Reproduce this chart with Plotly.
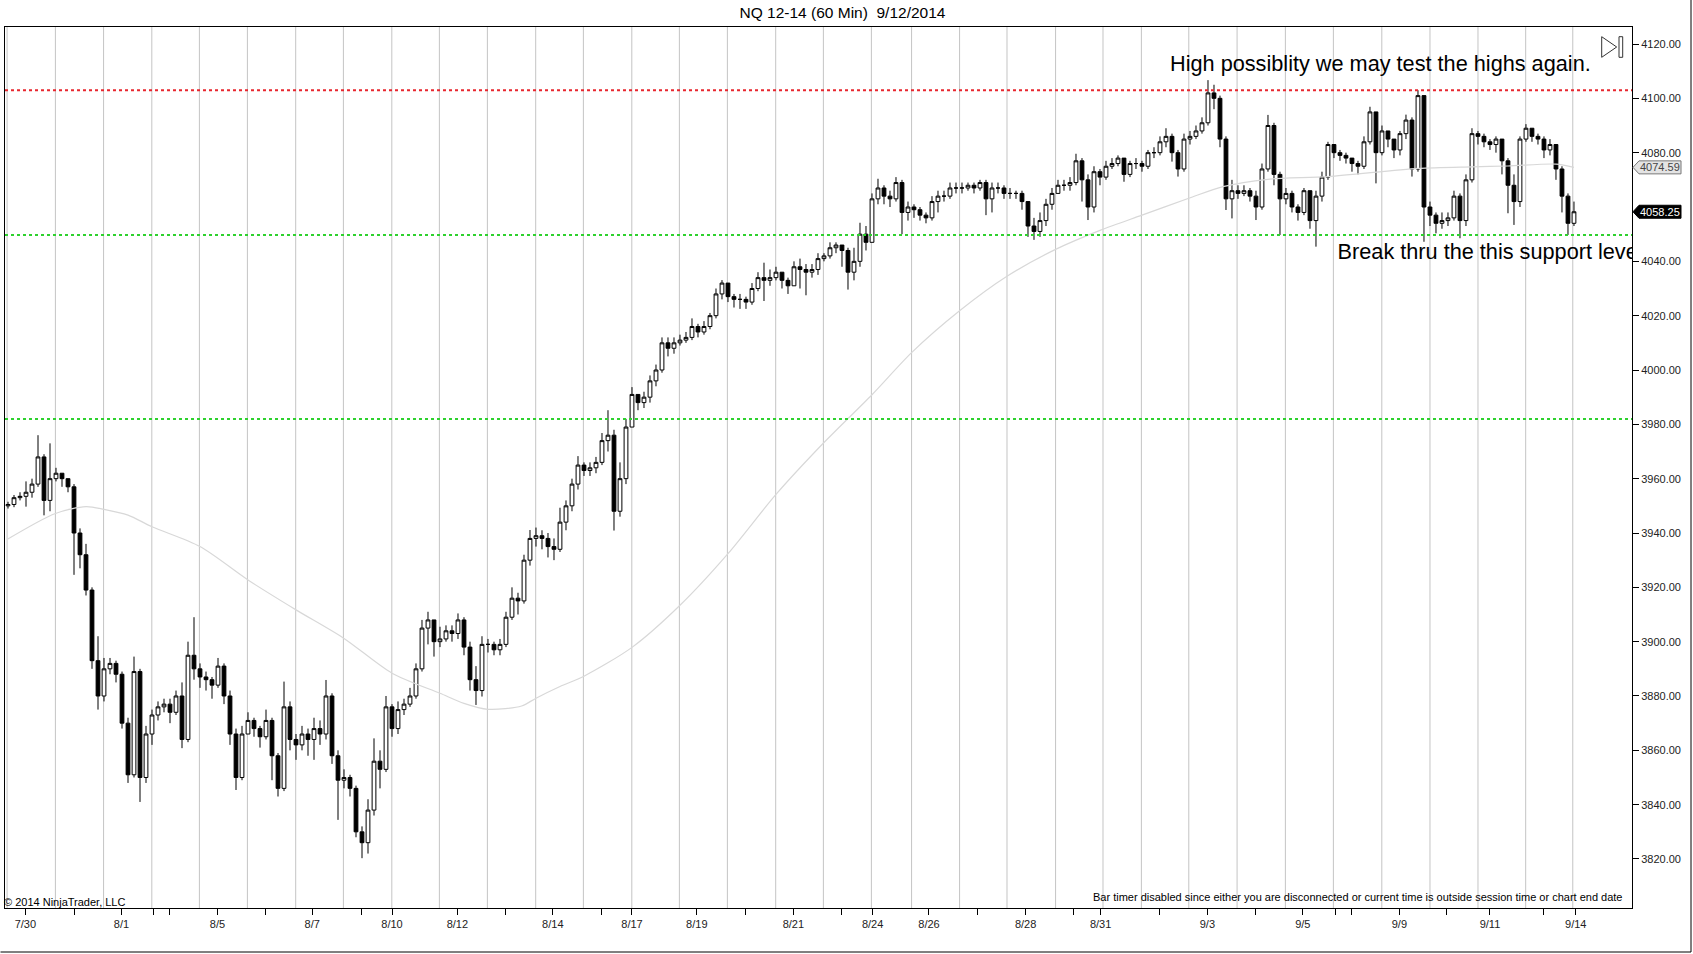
import plotly.graph_objects as go

title_text = "NQ 12-14 (60 Min)  9/12/2014"

first_open = 3950.0
close = [
    3950.5, 3953, 3953.5, 3955, 3958, 3968, 3952, 3960,
    3962, 3960, 3957, 3940, 3932, 3919, 3893, 3880,
    3890, 3892, 3888, 3870, 3851, 3889, 3850, 3866,
    3873, 3876, 3877, 3874, 3880, 3864, 3895, 3890,
    3887, 3886, 3884, 3891, 3880, 3866, 3850, 3866,
    3871, 3868, 3865, 3871, 3858, 3846, 3876, 3864,
    3862, 3866, 3864, 3868, 3866, 3880, 3858, 3849,
    3850, 3846, 3830, 3826, 3838, 3856, 3853, 3876,
    3868, 3875, 3877, 3880, 3890, 3905, 3908, 3900,
    3901, 3904, 3903, 3908, 3898, 3886, 3882, 3899,
    3899, 3897, 3899, 3909, 3916, 3915, 3930, 3938,
    3939, 3938, 3935, 3934, 3944, 3950, 3958, 3965,
    3963, 3964, 3966, 3974, 3976, 3948, 3960, 3979,
    3991, 3988, 3990, 3996, 4000, 4010, 4008, 4010,
    4011, 4012, 4016, 4014, 4016, 4020, 4028, 4032,
    4027, 4026, 4026, 4025, 4030, 4034, 4033, 4034,
    4036, 4033, 4031, 4038, 4037, 4036, 4037, 4041,
    4042, 4045, 4046, 4044, 4036, 4040, 4050, 4047,
    4063, 4067, 4064, 4063, 4069, 4058, 4060,
    4059, 4057, 4056, 4062, 4064, 4064, 4067, 4067,
    4067, 4068, 4067, 4069, 4063, 4067, 4067, 4065,
    4065, 4065, 4062, 4053, 4051, 4055, 4061, 4065,
    4068, 4068, 4069, 4077, 4070, 4060, 4073, 4071,
    4075, 4076, 4078, 4072, 4076, 4076,
    4075, 4080, 4080, 4084, 4086, 4080, 4074, 4085,
    4086, 4088, 4091, 4102, 4100, 4085, 4063, 4066,
    4065, 4066, 4064, 4060, 4074, 4090, 4072, 4063,
    4065, 4060, 4058, 4066, 4055, 4064, 4071, 4083,
    4080, 4079, 4078, 4076, 4075, 4084, 4095, 4080,
    4088, 4085, 4081, 4087, 4092, 4074, 4101, 4060,
    4057, 4054, 4055, 4056, 4064, 4055, 4070, 4087,
    4086, 4084, 4083, 4085, 4077, 4068, 4062, 4085,
    4089, 4086, 4085, 4081, 4083, 4074, 4064, 4054, 4058.25,
]
high = [
    3951.5, 3954, 3955, 3959, 3960, 3976, 3969, 3973,
    3964, 3962, 3960, 3958, 3941.7, 3936, 3920, 3902,
    3894, 3894, 3893, 3889, 3872, 3894.5, 3890, 3869,
    3875, 3878, 3879, 3879, 3882, 3885, 3900, 3909,
    3892, 3889, 3887, 3894, 3892, 3882, 3868, 3869,
    3874, 3872, 3869, 3875, 3872, 3859, 3885.3, 3878,
    3866, 3869, 3868, 3872, 3871, 3885.9, 3881, 3860,
    3853, 3851, 3847, 3832, 3842, 3864.4, 3860, 3880,
    3877, 3878, 3879, 3883, 3892, 3908, 3911, 3906,
    3905.5, 3906, 3906, 3910.4, 3909, 3900, 3891, 3902,
    3901, 3900, 3901, 3911, 3920, 3918, 3932, 3941.1,
    3942, 3941, 3940, 3938, 3949.3, 3952, 3960, 3968.3,
    3966, 3966, 3968, 3976.8, 3985.2, 3978, 3966, 3982,
    3993.7, 3991, 3992, 3998, 4002, 4012, 4012, 4012,
    4013, 4014, 4019, 4017, 4018, 4021, 4030, 4033.1,
    4031, 4028, 4028, 4027, 4032, 4036, 4039.5, 4037,
    4038, 4036, 4034, 4040, 4041, 4039, 4039, 4043,
    4043, 4047, 4047, 4046, 4045, 4045, 4054.2, 4053,
    4065, 4070.4, 4068, 4066, 4071, 4070, 4062,
    4061, 4060, 4058, 4064, 4066, 4066, 4069, 4069,
    4069, 4069, 4069, 4070, 4070, 4069, 4069, 4068,
    4067, 4066, 4066, 4062, 4056, 4058, 4063, 4067,
    4070, 4070, 4071, 4079.6, 4078, 4072, 4075, 4074,
    4077, 4078, 4079, 4078, 4077, 4078,
    4077, 4081, 4082, 4086, 4089, 4087, 4081, 4087,
    4088, 4090, 4093, 4106.7, 4105, 4101, 4086, 4070,
    4068, 4068, 4067, 4066, 4076, 4093.9, 4091, 4073,
    4067, 4066, 4061, 4067, 4066, 4066, 4073, 4084,
    4083, 4081, 4080, 4078, 4077, 4086, 4096.9, 4095,
    4090, 4088, 4084, 4088, 4094, 4093, 4103, 4101,
    4062, 4058, 4058, 4058, 4066, 4065, 4072, 4089,
    4088, 4087, 4085, 4086, 4085, 4078, 4072, 4086,
    4090.5, 4088, 4087, 4086, 4085, 4083, 4075, 4065, 4062,
]
low = [
    3949, 3949.5, 3952, 3949.7, 3953, 3957, 3946.5, 3948,
    3959, 3957, 3955, 3924.6, 3927, 3917, 3890, 3875,
    3878, 3888, 3885, 3868, 3848, 3850, 3841, 3848,
    3862, 3871, 3874, 3870, 3873, 3860.8, 3863, 3886,
    3883, 3882, 3879, 3883, 3877, 3862, 3845.4, 3849,
    3866, 3865, 3861, 3864, 3849, 3843, 3845, 3860,
    3856.5, 3860, 3858, 3856.5, 3862, 3864, 3855, 3834.4,
    3846, 3843, 3828, 3820.3, 3822, 3836, 3846, 3852,
    3865, 3866, 3873, 3876, 3879, 3889, 3899, 3894.5,
    3898, 3900, 3900, 3901, 3895, 3882, 3876.7, 3879.8,
    3896, 3895, 3895, 3898, 3908, 3910, 3914, 3928,
    3935, 3934, 3931, 3930, 3933, 3941, 3948, 3956,
    3961, 3961, 3962, 3965, 3970, 3940.9, 3946, 3958,
    3979, 3985.2, 3986, 3988, 3994, 3999, 4005, 4006,
    4009, 4010, 4011, 4012, 4013, 4015, 4019, 4026,
    4025, 4023, 4022.5, 4022.5, 4024, 4029, 4025.4, 4031,
    4033, 4030, 4028, 4031, 4030, 4027.5, 4034, 4035,
    4040, 4041, 4043, 4038, 4029.6, 4033, 4038, 4044,
    4047, 4061, 4061, 4060, 4062, 4050, 4055,
    4056, 4055, 4054, 4055, 4058, 4062, 4063, 4065,
    4065, 4066, 4065, 4066, 4057, 4058, 4065, 4063,
    4063, 4063, 4059, 4049, 4047.9, 4049, 4053, 4059,
    4066, 4066, 4066, 4068, 4062, 4055.2, 4058, 4068,
    4070, 4074, 4075, 4069.3, 4071, 4074,
    4073, 4074, 4078, 4079, 4082, 4076.7, 4071.2, 4073,
    4083, 4085, 4087, 4090, 4096, 4082, 4058.9, 4055.8,
    4063, 4064, 4062, 4055.2, 4059, 4073, 4068, 4049.7,
    4061, 4058, 4055, 4057, 4052, 4045.4, 4062, 4070,
    4078, 4077, 4076, 4073, 4072, 4074, 4083, 4068.7,
    4079, 4082, 4078, 4079, 4085, 4071.2, 4073, 4047.2,
    4053, 4050.3, 4052, 4053, 4055, 4048.5, 4053, 4069,
    4083, 4082, 4081, 4080, 4072, 4057.7, 4053.4, 4060,
    4084, 4084, 4083, 4078, 4079, 4070, 4058, 4049.7, 4053,
]

# slow moving average
ma_bar = [-0.1, 7.9, 13, 16, 20, 24, 32, 40, 48, 56, 64, 72, 76, 80, 85.6, 88, 92,
          96, 104, 112, 120, 128, 136, 144, 150.6, 158.6, 166.5, 174.6, 182, 189,
          196.8, 202.5, 210, 220, 235, 244, 250, 258, 261]
ma_val = [3937.7, 3947.2, 3949.7, 3948.7, 3946.6, 3942.3, 3935, 3922.7, 3911.7,
          3901.2, 3888.4, 3881, 3877.3, 3875.1, 3876.3, 3879.2, 3883.5, 3887.3,
          3897.9, 3913.4, 3932.4, 3954.2, 3973.3, 3990.9, 4006.4, 4021.8, 4034.5,
          4044.4, 4051.4, 4057, 4063.2, 4067.5, 4070.2, 4071.2, 4074.2, 4074.8,
          4075.1, 4075.8, 4074.6]
ma_last = 4074.59

resistance_levels = [4103.0]
support_levels = [4049.7, 3982.0]

y_tick_vals = [3820, 3840, 3860, 3880, 3900, 3920, 3940, 3960, 3980, 4000, 4020, 4040,
               4080, 4100, 4120]

tick_pos = [2.9, 18.9, 34.9, 50.7, 64.0, 74.9, 90.8, 104.0, 114.8, 130.9,
            144.1, 153.5, 169.6, 182.1, 199.9, 215.8, 231.9, 247.0, 261.3]
tick_text = ["7/30", "8/1", "8/5", "8/7", "8/10", "8/12", "8/14", "8/17", "8/19", "8/21",
             "8/24", "8/26", "8/28", "8/31", "9/3", "9/5", "9/9", "9/11", "9/14"]
minor_tick_pos = [11.05, 24.3, 26.95, 42.9, 58.9, 82.95, 98.9, 122.9, 139.0, 161.6,
                  177.6, 192.0, 207.9, 221.25, 223.9, 239.8, 255.9]
session_grid = [-0.15, 7.9, 15.93, 23.97, 31.9, 39.9, 47.95, 55.9, 63.97, 71.9, 79.9,
                87.95, 95.9, 103.97, 111.9, 119.9, 127.95, 135.9, 143.9, 150.6, 158.6,
                166.5, 174.6, 182.5, 188.9, 196.8, 204.85, 212.9, 220.9, 228.97, 237.0,
                245.0, 252.95, 260.8]

note_top = "High possiblity we may test the highs again."
note_bottom = "Break thru the this support level"
note_top_pos = (193.4, 4113.0)
note_bottom_pos = (221.6, 4042.8)

# ---------------------------------------------------------------------------
W, H = 1693, 954
PL, PR, PT, PB = 5, 1632, 27, 908
Y0, Y1 = 3801.96, 4126.26
X0, X1 = -0.5, 270.67


def pxx(X):
    return (X - PL) / (PR - PL)


def pxy(Y):
    return (PB - Y) / (PB - PT)


def vy(v):
    return (v - Y0) / (Y1 - Y0)


n = len(close)
xs = list(range(n))
opens = [first_open] + close[:-1]
hi = [max(h, o, c) for h, o, c in zip(high, opens, close)]
lo = [min(l, o, c) for l, o, c in zip(low, opens, close)]

FONT = "Liberation Sans, Arial, sans-serif"

fig = go.Figure()
fig.add_trace(go.Scatter(x=ma_bar, y=ma_val, mode="lines",
                         line=dict(color="#d8d8d8", width=1.2, shape="spline", smoothing=0.8),
                         hoverinfo="skip", showlegend=False))
fig.add_trace(go.Candlestick(
    x=xs, open=opens, high=hi, low=lo, close=close,
    increasing=dict(line=dict(color="black", width=1), fillcolor="white"),
    decreasing=dict(line=dict(color="black", width=1), fillcolor="black"),
    whiskerwidth=0, showlegend=False))
fig.add_trace(go.Scatter(x=[note_bottom_pos[0]], y=[note_bottom_pos[1]], mode="text",
                         text=[note_bottom], textposition="middle right",
                         textfont=dict(family=FONT, size=21.7, color="black"),
                         cliponaxis=True, hoverinfo="skip", showlegend=False))

shapes = []
for g in session_grid:
    shapes.append(dict(type="line", xref="x", yref="paper", x0=g, x1=g, y0=0, y1=1,
                       line=dict(color="#c4c4c4", width=1), layer="below"))
for lv in resistance_levels:
    shapes.append(dict(type="line", xref="paper", yref="y", x0=0, x1=1, y0=lv, y1=lv,
                       line=dict(color="#e8262e", width=2, dash="dot"), layer="above"))
for lv in support_levels:
    shapes.append(dict(type="line", xref="paper", yref="y", x0=0, x1=1, y0=lv, y1=lv,
                       line=dict(color="#2ed12e", width=2, dash="dot"), layer="above"))


def marker_path(v):
    yc = vy(v)
    dh = 6.5 / (PB - PT)
    return ("M {a},{yc} L {b},{t} L {c},{t} L {c},{bt} L {b},{bt} Z"
            .format(a=pxx(1633), b=pxx(1639), c=pxx(1681), yc=yc, t=yc + dh, bt=yc - dh))


shapes.append(dict(type="path", xref="paper", yref="paper", path=marker_path(ma_last),
                   fillcolor="#e4e4e4", line=dict(color="#777777", width=1), layer="above"))
shapes.append(dict(type="path", xref="paper", yref="paper", path=marker_path(close[-1]),
                   fillcolor="black", line=dict(color="black", width=1), layer="above"))

# "go to end" icon
shapes.append(dict(type="path", xref="paper", yref="paper",
                   path="M {x0},{y0} L {x0},{y1} L {x2},{ym} Z".format(
                       x0=pxx(1601.7), y0=pxy(36.7), y1=pxy(57.3), x2=pxx(1616.7), ym=pxy(47)),
                   line=dict(color="#333333", width=1), fillcolor="rgba(0,0,0,0)"))
shapes.append(dict(type="rect", xref="paper", yref="paper",
                   x0=pxx(1619), x1=pxx(1622.7), y0=pxy(57.3), y1=pxy(36.7),
                   line=dict(color="#333333", width=1)))
# outer frame
shapes.append(dict(type="line", xref="paper", yref="paper", x0=pxx(0.5), x1=pxx(1691),
                   y0=pxy(952), y1=pxy(952), line=dict(color="black", width=1)))
shapes.append(dict(type="line", xref="paper", yref="paper", x0=pxx(1691), x1=pxx(1691),
                   y0=pxy(952), y1=pxy(0), line=dict(color="black", width=1)))

annotations = [
    dict(x=note_top_pos[0], y=note_top_pos[1], xref="x", yref="y", text=note_top,
         showarrow=False, xanchor="left", yanchor="middle",
         font=dict(family=FONT, size=21.7, color="black")),
    dict(x=pxx(2), y=pxy(902), xref="paper", yref="paper", text="© 2014 NinjaTrader, LLC",
         showarrow=False, xanchor="left", yanchor="middle",
         font=dict(family=FONT, size=11, color="black")),
    dict(x=pxx(1625), y=pxy(897), xref="paper", yref="paper",
         text="Bar timer disabled since either you are disconnected or current time is outside session time or chart end date",
         showarrow=False, xanchor="right", yanchor="middle",
         font=dict(family=FONT, size=11, color="black")),
    dict(x=pxx(1660), y=vy(ma_last), xref="paper", yref="paper", text=f"{ma_last:.2f}",
         showarrow=False, xanchor="center", yanchor="middle",
         font=dict(family=FONT, size=11, color="#444444")),
    dict(x=pxx(1660), y=vy(close[-1]), xref="paper", yref="paper", text=f"{close[-1]:.2f}",
         showarrow=False, xanchor="center", yanchor="middle",
         font=dict(family=FONT, size=11, color="white")),
]

fig.update_layout(
    width=W, height=H,
    margin=dict(l=PL, r=W - PR, t=PT, b=H - PB, pad=0, autoexpand=False),
    paper_bgcolor="white", plot_bgcolor="white",
    boxgap=0.1,
    title=dict(text=title_text, x=842.5 / W, xref="container", xanchor="center",
               y=1 - 13 / H, yref="container", yanchor="middle",
               font=dict(family=FONT, size=15.5, color="black")),
    font=dict(family=FONT, size=11, color="black"),
    shapes=shapes, annotations=annotations,
    showlegend=False, hovermode=False,
    xaxis=dict(range=[X0, X1], showgrid=False, zeroline=False, showline=True, mirror=True,
               linecolor="black", linewidth=1, ticks="outside", ticklen=6, tickcolor="black",
               tickmode="array", tickvals=tick_pos, ticktext=tick_text,
               tickfont=dict(family=FONT, size=11, color="#222222"),
               minor=dict(tickmode="array", tickvals=minor_tick_pos, ticks="outside",
                          ticklen=6, tickcolor="black", showgrid=False),
               rangeslider=dict(visible=False), fixedrange=True, automargin=False),
    yaxis=dict(range=[Y0, Y1], side="right", showgrid=False, zeroline=False, showline=True,
               mirror=True, linecolor="black", linewidth=1, ticks="outside", ticklen=6,
               tickcolor="black", tickmode="array", tickvals=y_tick_vals,
               ticktext=[f"{v:.2f}" for v in y_tick_vals],
               tickfont=dict(family=FONT, size=11, color="#222222"), fixedrange=True,
               automargin=False),
)

fig.write_html("out.html", config={"displayModeBar": False},
               post_script="document.body.style.margin='0px';")
